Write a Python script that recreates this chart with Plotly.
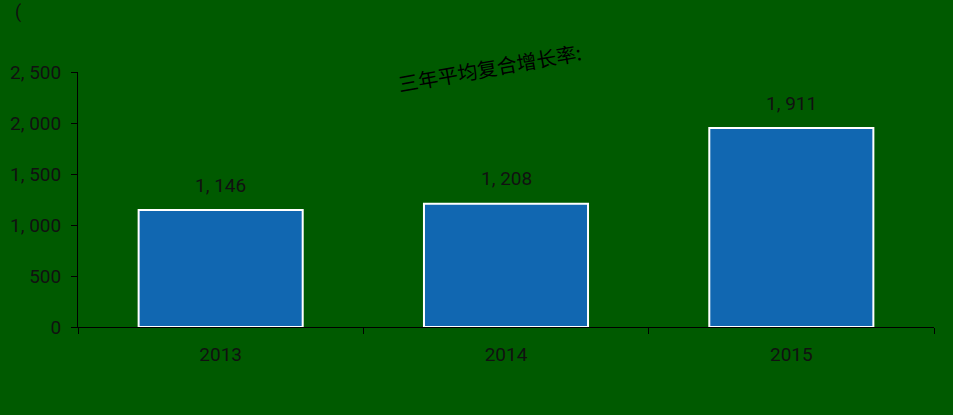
import plotly.graph_objects as go

years = ["2013", "2014", "2015"]
values = [1146, 1208, 1951]
value_labels = ["1, 146", "1, 208", "1, 911"]
y_tickvals = [0, 500, 1000, 1500, 2000, 2500]
y_ticktext = ["0", "500", "1, 000", "1, 500", "2, 000", "2, 500"]

bg = "#005A00"

fig = go.Figure(go.Bar(
    x=years,
    y=values,
    width=0.575,
    marker=dict(color="#1167B1", line=dict(color="white", width=2)),
    showlegend=False,
))

annotations = []
# category axis: use the index so "2013" isn't read as a number
for i, (v, t) in enumerate(zip(values, value_labels)):
    annotations.append(dict(x=i, y=v, text=t, showarrow=False, yshift=25, yanchor="middle",
                            font=dict(family="Roboto", size=19, color="#111")))

annotations.append(dict(xref="paper", yref="paper", x=0.481, y=1.016, yanchor="middle",
                        text="三年平均复合增长率:", showarrow=False, textangle=-10,
                        font=dict(family="Noto Sans CJK SC", size=20, color="black")))
annotations.append(dict(xref="paper", yref="paper", x=-0.076, y=1.285, xanchor="left",
                        text="(", showarrow=False,
                        font=dict(family="Roboto", size=18, color="#111")))

fig.update_layout(
    width=953, height=415,
    margin=dict(l=78, r=19, t=72, b=88),
    paper_bgcolor=bg, plot_bgcolor=bg,
    annotations=annotations,
    xaxis=dict(
        type="category", range=[-0.5, 2.5],
        showline=True, linecolor="black", linewidth=1,
        ticks="outside", tickcolor="black", ticklen=6,
        tickson="boundaries", showgrid=False, tickangle=0,
        ticklabelstandoff=10, automargin=False,
        tickfont=dict(family="Roboto", size=19, color="#111"),
    ),
    yaxis=dict(
        range=[0, 2500], tickvals=y_tickvals, ticktext=y_ticktext,
        showline=True, linecolor="black", linewidth=1,
        ticks="outside", tickcolor="black", ticklen=6,
        showgrid=False, zeroline=False,
        ticklabelstandoff=6, automargin=False,
        tickfont=dict(family="Roboto", size=19, color="#111"),
    ),
)

fig.write_html("out.html", config={"displayModeBar": False},
               post_script="document.body.style.margin='0';")
